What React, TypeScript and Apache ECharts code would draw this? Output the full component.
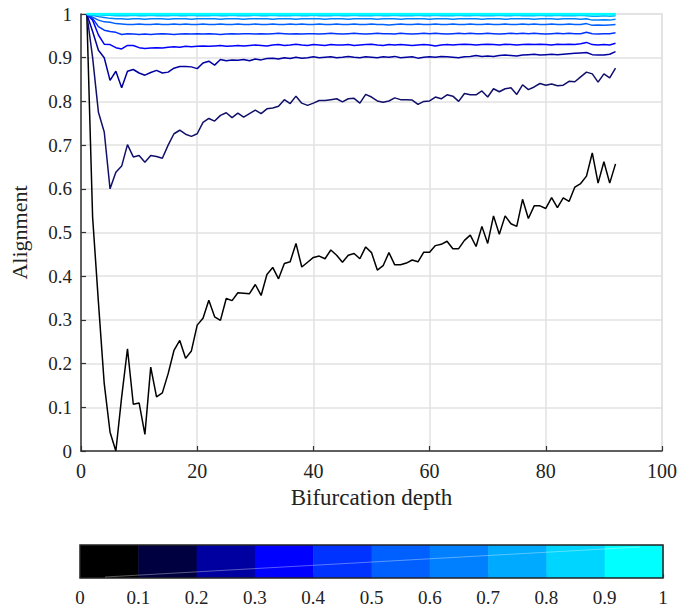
import React, { useEffect, useRef } from "react";
import * as echarts from "echarts";

const depths = [1,2,3,4,5,6,7,8,9,10,11,12,13,14,15,16,17,18,19,20,21,22,23,24,25,26,27,28,29,30,31,32,33,34,35,36,37,38,39,40,41,42,43,44,45,46,47,48,49,50,51,52,53,54,55,56,57,58,59,60,61,62,63,64,65,66,67,68,69,70,71,72,73,74,75,76,77,78,79,80,81,82,83,84,85,86,87,88,89,90,91,92];

const line00 = [1.0,0.535,0.34,0.154,0.043,0.0,0.124,0.234,0.107,0.11,0.038,0.192,0.124,0.133,0.177,0.23,0.253,0.212,0.229,0.288,0.304,0.345,0.307,0.299,0.349,0.344,0.362,0.361,0.36,0.381,0.356,0.404,0.42,0.394,0.429,0.433,0.475,0.421,0.432,0.443,0.446,0.44,0.46,0.448,0.432,0.448,0.452,0.44,0.467,0.454,0.414,0.424,0.454,0.426,0.426,0.43,0.437,0.433,0.455,0.455,0.47,0.473,0.48,0.463,0.463,0.482,0.494,0.468,0.514,0.475,0.538,0.496,0.538,0.52,0.514,0.576,0.532,0.561,0.561,0.555,0.58,0.557,0.579,0.571,0.604,0.612,0.629,0.682,0.613,0.662,0.613,0.657];

const line01 = [1.0,0.9,0.775,0.73,0.6,0.638,0.652,0.701,0.673,0.676,0.661,0.676,0.674,0.67,0.7,0.726,0.734,0.725,0.72,0.726,0.752,0.761,0.755,0.768,0.774,0.763,0.773,0.764,0.772,0.78,0.772,0.783,0.785,0.789,0.804,0.795,0.812,0.796,0.791,0.796,0.802,0.802,0.804,0.806,0.799,0.806,0.807,0.796,0.816,0.81,0.801,0.798,0.801,0.808,0.804,0.804,0.803,0.793,0.8,0.801,0.81,0.806,0.815,0.812,0.8,0.818,0.815,0.815,0.824,0.81,0.829,0.822,0.829,0.831,0.816,0.838,0.827,0.833,0.841,0.837,0.84,0.836,0.837,0.846,0.845,0.856,0.867,0.863,0.844,0.863,0.854,0.876];

const line02 = [1.0,0.96,0.917,0.9,0.848,0.869,0.831,0.869,0.873,0.865,0.86,0.866,0.871,0.865,0.867,0.876,0.88,0.88,0.879,0.875,0.888,0.892,0.883,0.896,0.893,0.895,0.894,0.896,0.893,0.897,0.895,0.898,0.899,0.897,0.9,0.898,0.901,0.899,0.9,0.902,0.9,0.901,0.902,0.9,0.901,0.903,0.901,0.9,0.902,0.901,0.9,0.902,0.901,0.903,0.9,0.901,0.902,0.899,0.901,0.902,0.901,0.903,0.902,0.901,0.9,0.902,0.903,0.905,0.903,0.904,0.903,0.905,0.906,0.905,0.904,0.906,0.907,0.908,0.906,0.907,0.908,0.907,0.908,0.909,0.91,0.911,0.912,0.907,0.906,0.906,0.908,0.914];

const line03 = [1.0,0.986,0.952,0.931,0.93,0.923,0.92,0.928,0.928,0.923,0.921,0.922,0.923,0.922,0.924,0.925,0.924,0.926,0.925,0.926,0.927,0.926,0.927,0.928,0.926,0.927,0.928,0.927,0.928,0.929,0.928,0.927,0.929,0.93,0.928,0.929,0.931,0.929,0.928,0.93,0.929,0.928,0.93,0.929,0.929,0.93,0.928,0.929,0.93,0.931,0.929,0.928,0.93,0.929,0.93,0.929,0.928,0.929,0.93,0.929,0.927,0.929,0.93,0.929,0.93,0.931,0.93,0.929,0.93,0.931,0.93,0.929,0.931,0.93,0.929,0.93,0.931,0.93,0.931,0.93,0.929,0.931,0.93,0.931,0.93,0.932,0.935,0.93,0.929,0.93,0.929,0.933];

const line04 = [1.0,0.99,0.971,0.963,0.96,0.958,0.953,0.955,0.954,0.953,0.954,0.953,0.954,0.955,0.954,0.953,0.954,0.955,0.954,0.955,0.954,0.955,0.954,0.953,0.954,0.955,0.954,0.955,0.955,0.954,0.955,0.954,0.955,0.956,0.955,0.954,0.955,0.954,0.955,0.955,0.954,0.955,0.956,0.955,0.954,0.955,0.956,0.955,0.954,0.955,0.956,0.955,0.955,0.954,0.956,0.955,0.954,0.955,0.956,0.955,0.956,0.955,0.954,0.955,0.956,0.955,0.956,0.955,0.955,0.956,0.955,0.954,0.955,0.956,0.955,0.956,0.955,0.956,0.955,0.954,0.955,0.956,0.955,0.956,0.955,0.955,0.958,0.955,0.954,0.955,0.955,0.957];

const line05 = [1.0,0.993,0.986,0.982,0.981,0.978,0.977,0.976,0.976,0.977,0.976,0.976,0.977,0.976,0.976,0.977,0.976,0.977,0.976,0.976,0.977,0.976,0.976,0.977,0.976,0.976,0.977,0.976,0.976,0.977,0.976,0.976,0.977,0.976,0.976,0.977,0.976,0.977,0.976,0.976,0.977,0.976,0.976,0.977,0.976,0.976,0.977,0.976,0.976,0.977,0.976,0.976,0.975,0.976,0.977,0.976,0.976,0.977,0.976,0.976,0.977,0.976,0.976,0.977,0.976,0.976,0.977,0.976,0.976,0.977,0.976,0.976,0.977,0.976,0.976,0.977,0.976,0.977,0.976,0.976,0.977,0.976,0.976,0.977,0.976,0.976,0.978,0.974,0.975,0.974,0.975,0.976];

const line06 = [1.0,0.997,0.994,0.992,0.99,0.989,0.989,0.988,0.989,0.989,0.988,0.989,0.989,0.989,0.988,0.989,0.989,0.989,0.988,0.989,0.989,0.989,0.989,0.988,0.989,0.989,0.989,0.988,0.989,0.989,0.989,0.989,0.988,0.989,0.989,0.989,0.988,0.989,0.989,0.989,0.989,0.988,0.989,0.989,0.989,0.988,0.989,0.989,0.989,0.989,0.988,0.989,0.989,0.989,0.988,0.989,0.989,0.989,0.989,0.988,0.989,0.989,0.989,0.988,0.989,0.989,0.989,0.989,0.988,0.989,0.989,0.989,0.988,0.989,0.989,0.989,0.989,0.988,0.989,0.989,0.989,0.988,0.989,0.989,0.989,0.988,0.989,0.986,0.986,0.987,0.986,0.988];

const line07 = [1.0,0.999,0.998,0.997,0.997,0.996,0.996,0.996,0.997,0.996,0.996,0.997,0.996,0.996,0.996,0.997,0.996,0.996,0.997,0.996,0.996,0.996,0.997,0.996,0.996,0.997,0.996,0.996,0.996,0.997,0.996,0.996,0.997,0.996,0.996,0.996,0.997,0.996,0.996,0.997,0.996,0.996,0.996,0.997,0.996,0.996,0.997,0.996,0.996,0.996,0.997,0.996,0.996,0.997,0.996,0.996,0.996,0.997,0.996,0.996,0.997,0.996,0.996,0.996,0.997,0.996,0.996,0.997,0.996,0.996,0.996,0.997,0.996,0.996,0.997,0.996,0.996,0.996,0.997,0.996,0.996,0.997,0.996,0.996,0.996,0.997,0.996,0.995,0.995,0.996,0.995,0.996];

const line08 = [1.0,1.0,0.999,0.999,0.999,0.999,0.999,0.999,0.999,0.999,0.999,0.999,0.999,0.999,0.999,0.999,0.999,0.999,0.999,0.999,0.999,0.999,0.999,0.999,0.999,0.999,0.999,0.999,0.999,0.999,0.999,0.999,0.999,0.999,0.999,0.999,0.999,0.999,0.999,0.999,0.999,0.999,0.999,0.999,0.999,0.999,0.999,0.999,0.999,0.999,0.999,0.999,0.999,0.999,0.999,0.999,0.999,0.999,0.999,0.999,0.999,0.999,0.999,0.999,0.999,0.999,0.999,0.999,0.999,0.999,0.999,0.999,0.999,0.999,0.999,0.999,0.999,0.999,0.999,0.999,0.999,0.999,0.999,0.999,0.999,0.999,0.999,0.999,0.999,0.999,0.999,0.999];

const line09 = [1.0,1.0,1.0,1.0,1.0,1.0,1.0,1.0,1.0,1.0,1.0,1.0,1.0,1.0,1.0,1.0,1.0,1.0,1.0,1.0,1.0,1.0,1.0,1.0,1.0,1.0,1.0,1.0,1.0,1.0,1.0,1.0,1.0,1.0,1.0,1.0,1.0,1.0,1.0,1.0,1.0,1.0,1.0,1.0,1.0,1.0,1.0,1.0,1.0,1.0,1.0,1.0,1.0,1.0,1.0,1.0,1.0,1.0,1.0,1.0,1.0,1.0,1.0,1.0,1.0,1.0,1.0,1.0,1.0,1.0,1.0,1.0,1.0,1.0,1.0,1.0,1.0,1.0,1.0,1.0,1.0,1.0,1.0,1.0,1.0,1.0,1.0,1.0,1.0,1.0,1.0,1.0];

const line10 = [1.0,1.0,1.0,1.0,1.0,1.0,1.0,1.0,1.0,1.0,1.0,1.0,1.0,1.0,1.0,1.0,1.0,1.0,1.0,1.0,1.0,1.0,1.0,1.0,1.0,1.0,1.0,1.0,1.0,1.0,1.0,1.0,1.0,1.0,1.0,1.0,1.0,1.0,1.0,1.0,1.0,1.0,1.0,1.0,1.0,1.0,1.0,1.0,1.0,1.0,1.0,1.0,1.0,1.0,1.0,1.0,1.0,1.0,1.0,1.0,1.0,1.0,1.0,1.0,1.0,1.0,1.0,1.0,1.0,1.0,1.0,1.0,1.0,1.0,1.0,1.0,1.0,1.0,1.0,1.0,1.0,1.0,1.0,1.0,1.0,1.0,1.0,1.0,1.0,1.0,1.0,1.0];

const seriesValues = [line00, line01, line02, line03, line04, line05, line06, line07, line08, line09, line10];
const seriesNames = ["0", "0.1", "0.2", "0.3", "0.4", "0.5", "0.6", "0.7", "0.8", "0.9", "1"];
const lineColors = ["#000000", "#10106a", "#0000a0", "#0000ff", "#0033ff", "#0060ff", "#0080ff", "#00aaff", "#00d5ff", "#00ffff", "#00ffff"];

const colorbarStarts = [0, 0.1, 0.2, 0.3, 0.4, 0.5, 0.6, 0.7, 0.8, 0.9];
const colorbarEnds = [0.1, 0.2, 0.3, 0.4, 0.5, 0.6, 0.7, 0.8, 0.9, 1.0];
const colorbarColors = ["#000000", "#000040", "#0000a0", "#0000ff", "#0033ff", "#0060ff", "#0080ff", "#00aaff", "#00d5ff", "#00ffff"];

const FONT = "'Liberation Serif', 'Times New Roman', serif";

export default function App() {
  const ref = useRef<HTMLDivElement>(null);
  useEffect(() => {
    document.body.style.margin = "0";
    if (!ref.current) return;
    const chart = echarts.init(ref.current, undefined, { renderer: "svg" });
    const lineSeries = seriesValues.map((vals, i) => ({
      type: "line",
      name: seriesNames[i],
      xAxisIndex: 0,
      yAxisIndex: 0,
      data: depths.map((d, j) => [d, vals[j]]),
      showSymbol: false,
      symbol: "none",
      lineStyle: { color: lineColors[i], width: i >= 9 ? 2.5 : 1.5 },
      z: 3 + i,
    }));
    const option: any = {
      animation: false,
      backgroundColor: "#ffffff",
      textStyle: { fontFamily: FONT },
      grid: [
        { left: 80, right: 32, top: 14, bottom: 157, show: true, borderColor: "#dddddd", borderWidth: 1.5, backgroundColor: "transparent" },
        { left: 80, right: 31, top: 545, height: 33, show: true, borderColor: "#222222", borderWidth: 1.5, z: 10, backgroundColor: "transparent" },
      ],
      xAxis: [
        {
          gridIndex: 0, type: "value", min: 0, max: 100, interval: 20,
          name: "Bifurcation depth", nameLocation: "middle", nameGap: 33,
          nameTextStyle: { fontSize: 23, color: "#222", fontFamily: FONT },
          axisLine: { show: true, onZero: false, lineStyle: { color: "#333", width: 1.5 } },
          axisTick: { show: true, inside: true, length: 5, lineStyle: { color: "#333", width: 1.2 } },
          axisLabel: { fontSize: 20, color: "#222", margin: 10, fontFamily: FONT },
          splitLine: { show: true, lineStyle: { color: "#e2e2e2", width: 1.5 } },
        },
        {
          gridIndex: 1, type: "value", min: 0, max: 1, interval: 0.1,
          axisLine: { show: false },
          axisTick: { show: true, inside: true, length: 4, lineStyle: { color: "#222", width: 1.2 } },
          axisLabel: { fontSize: 19, color: "#222", margin: 10, fontFamily: FONT },
          splitLine: { show: false },
        },
      ],
      yAxis: [
        {
          gridIndex: 0, type: "value", min: 0, max: 1, interval: 0.1,
          name: "Alignment", nameLocation: "middle", nameGap: 51,
          nameTextStyle: { fontSize: 22, color: "#222", fontFamily: FONT },
          axisLine: { show: true, onZero: false, lineStyle: { color: "#333", width: 1.5 } },
          axisTick: { show: true, inside: true, length: 5, lineStyle: { color: "#333", width: 1.2 } },
          axisLabel: { fontSize: 19, color: "#222", margin: 9, fontFamily: FONT },
          splitLine: { show: true, lineStyle: { color: "#e2e2e2", width: 1.5 } },
        },
        {
          gridIndex: 1, type: "value", min: 0, max: 1,
          axisLine: { show: false }, axisTick: { show: false }, axisLabel: { show: false }, splitLine: { show: false },
        },
      ],
      series: [
        ...lineSeries,
        {
          type: "custom",
          xAxisIndex: 1,
          yAxisIndex: 1,
          data: colorbarStarts.map((s, i) => [s, colorbarEnds[i]]),
          encode: { x: [0, 1] },
          renderItem: (params: any, api: any) => {
            const p0 = api.coord([api.value(0), 1]);
            const p1 = api.coord([api.value(1), 0]);
            return {
              type: "rect",
              shape: { x: p0[0], y: p0[1], width: p1[0] - p0[0] + 0.5, height: p1[1] - p0[1] },
              style: { fill: colorbarColors[params.dataIndex] },
            };
          },
          z: 2,
        },
      ],
      graphic: [
        {
          type: "line",
          shape: { x1: 105, y1: 577, x2: 640, y2: 547 },
          style: { stroke: "rgba(255,255,255,0.35)", lineWidth: 1 },
          z: 20,
          silent: true,
        },
      ],
    };
    chart.setOption(option);
    return () => chart.dispose();
  }, []);
  return <div ref={ref} style={{ width: 694, height: 608 }} />;
}
